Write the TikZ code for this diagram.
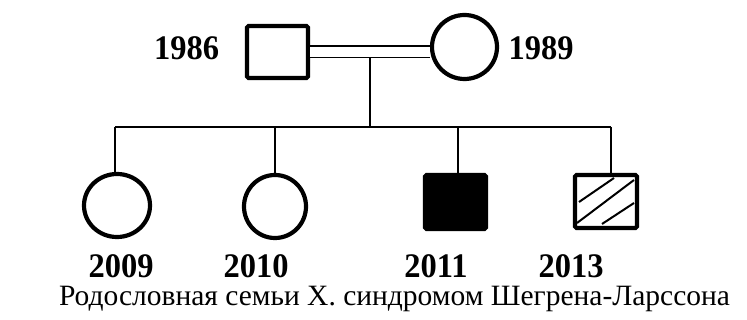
\documentclass[tikz,border=0pt]{standalone}
\usepackage{fontspec}
\setmainfont{Liberation Serif}
\usetikzlibrary{shapes.geometric}
\newcommand{\yrtext}[1]{\scalebox{1}[1.06]{#1}}
\begin{document}
\begin{tikzpicture}[x=1pt,y=-1pt,
  sq/.style={draw,line width=4.2pt,rectangle,rounded corners=1.5pt,minimum width=61pt,minimum height=52pt,inner sep=0pt},
  ci/.style={draw,line width=4.2pt,ellipse,inner sep=0pt},
  thin/.style={line width=1.5pt},
  yr/.style={font=\bfseries\fontsize{32.5}{36}\selectfont,inner sep=0pt}]
\useasboundingbox (0,0) rectangle (747,320);
% parents
\node[sq] (fa) at (277.5,52) {};
\node[ci,minimum width=65pt,minimum height=64pt] (mo) at (464.5,47) {};
\node[yr] (lfa) at (186.5,48.5) {\yrtext{1986}};
\node[yr] (lmo) at (541,48.5) {\yrtext{1989}};
% marriage line
\draw[thin,double,double distance=10pt] (fa.east) -- (fa.east -| mo.west);
\coordinate (ms) at (370,58);
\coordinate (sL) at (115,127);
\coordinate (sR) at (611,127);
\draw[thin] (ms) -- (ms |- sL);
\draw[thin] (sL) -- (sR);
% children
\node[ci,minimum width=66pt,minimum height=63pt] (c1) at (117,205.5) {};
\node[ci,minimum width=62pt,minimum height=63pt] (c2) at (275,206.5) {};
\node[sq,fill=black,minimum height=54pt] (c3) at (455.5,202) {};
\node[sq,minimum height=53pt,minimum width=62pt] (c4) at (606,201.5) {};
\draw[thin] (sL) -- (sL |- c1.north);
\draw[thin] (sL -| c2.north) -- (c2.north);
\draw[thin] ([xshift=2.5pt]c3.north |- sL) -- ([xshift=2.5pt]c3.north);
\draw[thin] (sR) -- (sR |- c4.north);
% hatch
\draw[line width=2pt] ([shift={(-27,0.5)}]c4.center) -- ([shift={(8,-23.5)}]c4.center);
\draw[line width=2pt] ([shift={(-29,21.5)}]c4.center) -- ([shift={(28,-21.5)}]c4.center);
\draw[line width=2pt] ([shift={(-4,22.5)}]c4.center) -- ([shift={(28,1.5)}]c4.center);
% years
\node[yr] (y1) at (121,266.5) {\yrtext{2009}};
\node[yr] (y2) at (256,266.5) {\yrtext{2010}};
\node[yr] (y3) at (436,266.5) {\yrtext{2011}};
\node[yr] (y4) at (571,266.5) {\yrtext{2013}};
% caption
\node[anchor=base,inner sep=0pt,font=\fontsize{29.5}{32}\selectfont] (cap) at (394.5,306) {Родословная семьи Х. синдромом Шегрена-Ларссона};
\end{tikzpicture}
\end{document}
